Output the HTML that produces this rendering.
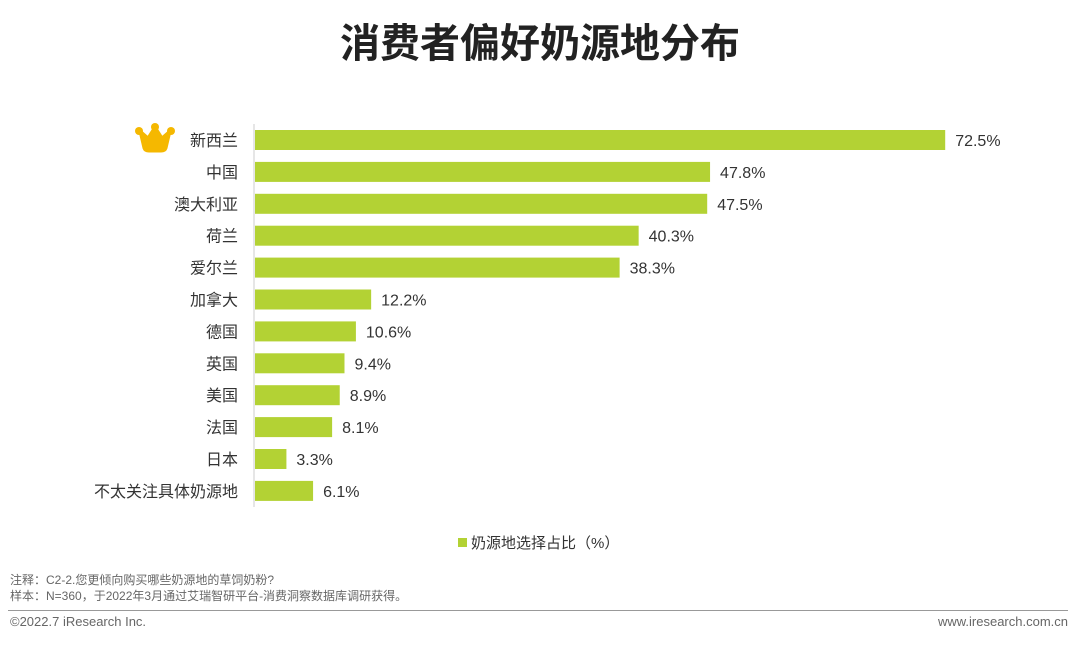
<!DOCTYPE html>
<html><head><meta charset="utf-8"><style>
body{margin:0;width:1080px;height:645px;background:#fff;font-family:"Liberation Sans","Noto Sans CJK SC",sans-serif;overflow:hidden;position:relative}
.t{position:absolute;white-space:nowrap}
</style></head><body>
<div class="t" style="left:0;width:1080px;text-align:center;top:11px;font-size:40px;font-weight:bold;color:#222">消费者偏好奶源地分布</div>
<svg id="c" width="1080" height="645" style="position:absolute;left:0;top:0"></svg>
<div class="t" style="left:10px;top:571px;font-size:12px;color:#666">注释：C2-2.您更倾向购买哪些奶源地的草饲奶粉?</div>
<div class="t" style="left:10px;top:587px;font-size:12px;color:#666">样本：N=360，于2022年3月通过艾瑞智研平台-消费洞察数据库调研获得。</div>
<div style="position:absolute;left:8px;top:610px;width:1060px;height:1px;background:#999"></div>
<div class="t" style="left:10px;top:614px;font-size:13px;color:#666">©2022.7 iResearch Inc.</div>
<div class="t" style="right:12px;top:614px;font-size:13px;color:#666">www.iresearch.com.cn</div>
<script>
const categories=["新西兰","中国","澳大利亚","荷兰","爱尔兰","加拿大","德国","英国","美国","法国","日本","不太关注具体奶源地"];
const values=[72.5,47.8,47.5,40.3,38.3,12.2,10.6,9.4,8.9,8.1,3.3,6.1];
const labels=["72.5%","47.8%","47.5%","40.3%","38.3%","12.2%","10.6%","9.4%","8.9%","8.1%","3.3%","6.1%"];
const svg=document.getElementById('c');const NS='http://www.w3.org/2000/svg';
const x0=255,k=9.52,y0=140,step=31.9,bh=20;
const xs=v=>x0+v*k, ys=i=>y0+i*step;
function mk(t,a){const e=document.createElementNS(NS,t);for(const p in a)e.setAttribute(p,a[p]);svg.appendChild(e);return e;}
const ax=mk('line',{x1:254,x2:254,y1:124,y2:507,stroke:'#ccc','stroke-width':1});


categories.forEach((c,i)=>{
 const r=mk('rect',{x:x0,y:ys(i)-bh/2,width:xs(values[i])-x0,height:bh,fill:'#b3d234'});
 
 
 const t=mk('text',{x:238,y:ys(i)+6,'text-anchor':'end','font-size':16,fill:'#333'});t.textContent=c;
 
 
 const v=mk('text',{x:xs(values[i])+10,y:ys(i)+6,'font-size':16,fill:'#333'});v.textContent=labels[i];
 
 
});
const crown=mk('path',{d:'M140 131 L144 148 Q145 151 149 151 L161 151 Q165 151 166 148 L170 131 L162 138 L155 127 L148 138 Z',fill:'#f5b800',stroke:'#f5b800','stroke-width':3,'stroke-linejoin':'round'});


[[139,131],[155,127],[171,131]].forEach(p=>{const c=mk('circle',{cx:p[0],cy:p[1],r:4,fill:'#f5b800'});});
const lg=mk('rect',{x:458,y:538,width:9,height:9,fill:'#b3d234'});


const lt=mk('text',{x:471,y:548,'font-size':15,fill:'#333'});lt.textContent='奶源地选择占比（%）';


</script>
</body></html>
